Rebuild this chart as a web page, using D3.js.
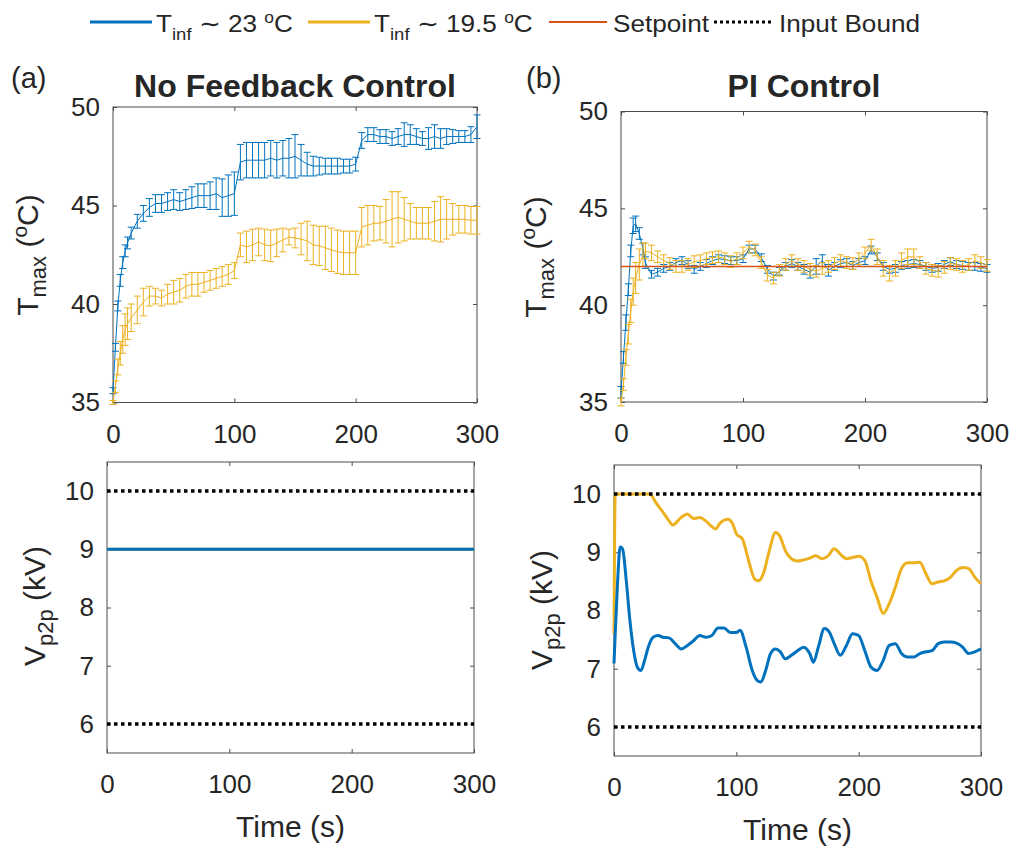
<!DOCTYPE html>
<html>
<head>
<meta charset="utf-8">
<script src="https://cdn.jsdelivr.net/npm/d3@7"></script>
<style>
  body { margin: 0; background: #fff; }
  text { font-family: "Liberation Sans", Arial, Helvetica, sans-serif; fill: #262626; }
</style>
</head>
<body>
<svg id="fig" width="1015" height="850"></svg>
<script>
// ---- data ----
var timeTicks = [0, 100, 200, 300];
var tempTicks = [35, 40, 45, 50];
var voltTicks = [6, 7, 8, 9, 10];
var setpoint = 42;
var inputBounds = [6, 10];

// (a) no feedback, T_max mean and error half-width
var tA = [0,2,4,6,8,10,12,15,20,25,30,35,40,45,50,55,60,65,70,75,80,85,90,95,100,
  105,110,115,120,125,130,135,140,145,150,155,160,165,170,175,180,185,190,195,200,
  205,210,215,220,225,230,235,240,245,250,255,260,265,270,275,280,285,290,295,300];
var blueMeanA = [35.6,37.8,39.9,41.2,42.1,42.7,43.1,43.6,44.2,44.6,44.9,45.1,45.1,45.2,45.3,45.2,45.3,45.4,45.5,45.5,45.5,45.6,45.4,45.5,45.6,
  47.2,47.3,47.3,47.3,47.3,47.4,47.3,47.4,47.4,47.5,47.3,47.1,47.0,47.0,47.0,47.0,47.0,47.0,47.0,47.1,
  48.3,48.6,48.6,48.5,48.5,48.4,48.5,48.6,48.6,48.5,48.4,48.4,48.5,48.4,48.5,48.5,48.5,48.5,48.6,49.0];
var blueErrA = [0.15,0.2,0.25,0.3,0.3,0.3,0.3,0.3,0.35,0.4,0.45,0.45,0.45,0.45,0.5,0.45,0.5,0.55,0.6,0.6,0.7,0.8,0.95,1.05,1.1,
  0.9,0.9,0.9,0.9,0.9,0.9,0.9,0.9,1.0,1.1,0.8,0.6,0.5,0.45,0.4,0.4,0.4,0.35,0.35,0.35,
  0.4,0.35,0.35,0.35,0.35,0.35,0.4,0.6,0.5,0.4,0.35,0.55,0.6,0.5,0.4,0.35,0.3,0.3,0.4,0.6];
var yellowMeanA = [35.0,35.8,36.8,37.5,38.2,38.7,39.0,39.3,39.7,40.1,40.4,40.4,40.3,40.5,40.6,40.7,40.9,41.0,41.0,41.1,41.2,41.3,41.4,41.5,41.7,
  43.0,42.9,43.0,43.15,43.0,42.95,43.1,43.25,43.4,43.35,43.3,43.2,43.0,42.95,42.85,42.75,42.65,42.6,42.6,42.6,
  43.9,44.0,44.1,44.1,44.2,44.3,44.4,44.3,44.2,44.1,44.1,44.1,44.2,44.3,44.3,44.3,44.3,44.3,44.25,44.25];
var yellowErrA = [0.1,0.3,0.4,0.6,0.7,0.8,0.8,0.7,0.7,0.7,0.5,0.4,0.4,0.5,0.6,0.6,0.6,0.6,0.6,0.5,0.5,0.5,0.5,0.5,0.4,
  0.6,0.8,0.8,0.7,0.8,0.8,0.7,0.6,0.4,0.5,0.8,1.0,1.0,1.0,1.1,1.1,1.1,1.1,1.1,1.1,
  1.0,1.0,0.9,0.85,1.1,1.4,1.3,1.1,0.9,0.8,0.8,0.8,1.0,1.15,1.0,0.8,0.7,0.7,0.7,0.7];

// (b) PI control, T_max mean and error half-width
var tB = [0,2,4,6,8,10,12,15,18,20,25,30,35,40,45,50,55,60,65,70,75,80,85,90,95,100,
  105,110,115,120,125,130,135,140,145,150,155,160,165,170,175,180,185,190,195,200,
  205,210,215,220,225,230,235,240,245,250,255,260,265,270,275,280,285,290,295,300];
var blueMeanB = [35.5,37.3,39.1,40.8,42.8,44.1,44.2,43.7,42.9,42.2,41.6,41.7,41.9,42.0,42.2,42.3,42.1,41.85,42.0,42.15,42.3,42.4,42.35,42.3,42.3,42.4,
  42.9,42.9,42.45,41.85,41.5,41.75,42.0,42.15,42.0,41.85,41.7,42.0,42.3,41.8,42.0,42.15,42.2,42.05,42.2,42.3,
  42.85,42.5,42.0,41.85,41.9,42.05,42.1,42.15,42.1,42.0,41.9,41.95,42.1,42.25,42.1,42.05,42.0,42.0,41.95,41.9];
var blueErrB = [0.3,0.3,0.4,0.3,0.3,0.4,0.4,0.3,0.3,0.3,0.2,0.2,0.2,0.2,0.2,0.2,0.2,0.2,0.2,0.2,0.2,0.2,0.2,0.2,0.2,0.2,
  0.2,0.2,0.2,0.2,0.2,0.2,0.2,0.2,0.2,0.25,0.3,0.4,0.3,0.3,0.2,0.2,0.2,0.2,0.2,0.2,
  0.2,0.2,0.2,0.2,0.2,0.2,0.2,0.2,0.2,0.2,0.2,0.2,0.2,0.2,0.2,0.2,0.2,0.2,0.2,0.2];
var yellowMeanB = [35.0,35.9,37.3,38.5,39.7,40.7,41.4,42.1,42.6,42.8,42.7,42.5,42.3,42.15,42.0,42.0,42.1,42.25,42.3,42.4,42.45,42.5,42.4,42.25,42.4,42.7,
  43.0,42.85,42.2,41.55,41.4,41.8,42.1,42.3,42.1,42.0,41.85,41.75,41.9,42.0,42.15,42.3,42.2,42.15,42.4,42.7,
  43.1,42.5,41.9,41.65,41.9,42.3,42.5,42.5,42.2,41.9,41.8,41.75,41.95,42.15,42.1,42.0,42.1,42.3,42.2,42.05];
var yellowErrB = [0.2,0.3,0.4,0.5,0.6,0.7,0.8,0.8,0.6,0.4,0.4,0.3,0.3,0.3,0.3,0.3,0.3,0.3,0.3,0.3,0.3,0.3,0.3,0.3,0.3,0.3,
  0.3,0.3,0.3,0.3,0.3,0.3,0.3,0.3,0.3,0.3,0.3,0.3,0.3,0.3,0.3,0.3,0.3,0.3,0.3,0.3,
  0.3,0.4,0.4,0.4,0.4,0.4,0.4,0.4,0.3,0.3,0.3,0.3,0.3,0.3,0.3,0.3,0.3,0.3,0.3,0.3];

// input voltage
var tVa = [0, 300];
var blueVa = [9, 9];
var yellowVa = [9, 9];
var tVbBlue = [0,1,3,5,7,10,13,16,19,22,25,28,32,36,40,45,50,55,60,65,70,75,80,85,90,95,100,103,108,113,
  117,120,124,128,132,136,140,145,150,155,160,163,167,172,176,180,185,190,195,200,
  205,210,215,220,225,230,235,240,245,250,255,260,265,270,275,280,285,290,295,300];
var blueVb = [7.09,7.6,8.52,9.09,9.06,8.52,7.83,7.32,7.03,6.97,7.14,7.37,7.54,7.57,7.54,7.53,7.43,7.34,7.4,7.48,
  7.57,7.54,7.57,7.7,7.7,7.62,7.62,7.66,7.37,6.97,6.8,6.77,6.97,7.26,7.34,7.29,7.17,7.23,7.31,7.37,
  7.26,7.11,7.37,7.69,7.63,7.43,7.23,7.4,7.6,7.57,7.31,7.03,6.97,7.14,7.4,7.43,7.26,7.2,7.2,7.26,
  7.29,7.31,7.43,7.46,7.46,7.44,7.37,7.26,7.29,7.34];
var tVbYellow = [0,1,5,10,15,20,25,29,35,40,45,48,55,60,65,70,75,80,83,87,93,97,100,105,110,115,118,122,127,132,
  136,140,145,150,155,160,165,170,175,180,185,190,195,200,205,210,215,220,225,230,
  235,240,245,250,255,260,265,270,275,280,285,290,295,300];
var yellowVb = [7.6,10,10,10,10,10,10,10,9.83,9.69,9.54,9.47,9.6,9.66,9.58,9.6,9.54,9.44,9.4,9.51,
  9.57,9.49,9.32,9.23,8.86,8.54,8.51,8.63,9.03,9.34,9.26,9.03,8.89,8.85,8.87,8.9,8.94,8.89,8.94,9.06,
  8.97,8.89,8.91,8.93,8.86,8.51,8.23,7.95,8.12,8.4,8.72,8.82,8.82,8.83,8.63,8.46,8.49,8.51,8.57,8.69,
  8.74,8.72,8.57,8.46];

// ---- styles ----
var BLUE = "#0072BD", YELLOW = "#EDB120", RED = "#D95319", AXIS = "#4d4d4d";

var svg = d3.select("#fig");

// build one axes box with inward ticks on all four sides
function panel(box, ydom, yticks) {
  var x = d3.scaleLinear().domain([0, 300]).range([box.x0, box.x1]);
  var y = d3.scaleLinear().domain(ydom).range([box.y1, box.y0]);
  var style = function(g) {
    g.select(".domain").remove();
    g.selectAll("line").attr("stroke", AXIS);
    g.attr("font-size", 26);
  };
  var fmt = d3.format("d");
  svg.append("g").attr("transform", "translate(0," + box.y1 + ")")
    .call(d3.axisBottom(x).tickValues(timeTicks).tickFormat(fmt).tickSize(-4).tickPadding(22)).call(style);
  svg.append("g").attr("transform", "translate(0," + box.y0 + ")")
    .call(d3.axisTop(x).tickValues(timeTicks).tickSize(-4).tickFormat("")).call(style);
  svg.append("g").attr("transform", "translate(" + box.x0 + ",0)")
    .call(d3.axisLeft(y).tickValues(yticks).tickFormat(fmt).tickSize(-4).tickPadding(13)).call(style);
  svg.append("g").attr("transform", "translate(" + box.x1 + ",0)")
    .call(d3.axisRight(y).tickValues(yticks).tickSize(-4).tickFormat("")).call(style);
  svg.append("rect")
    .attr("x", box.x0).attr("y", box.y0)
    .attr("width", box.x1 - box.x0).attr("height", box.y1 - box.y0)
    .attr("fill", "none").attr("stroke", AXIS).attr("stroke-width", 1);
  return {x: x, y: y, box: box};
}

function errorbars(p, times, mean, err, color) {
  var pts = times.map(function(t, i) { return {t: t, m: mean[i], e: err[i]}; });
  var g = svg.append("g").attr("stroke", color).attr("stroke-width", 1).attr("fill", "none");
  g.append("path")
    .attr("d", d3.line().x(function(d) { return p.x(d.t); }).y(function(d) { return p.y(d.m); })(pts));
  var bars = g.selectAll("g.bar").data(pts).enter().append("g");
  bars.append("line")
    .attr("x1", function(d) { return p.x(d.t); }).attr("x2", function(d) { return p.x(d.t); })
    .attr("y1", function(d) { return p.y(d.m - d.e); }).attr("y2", function(d) { return p.y(d.m + d.e); });
  [-1, 1].forEach(function(s) {
    bars.append("line")
      .attr("x1", function(d) { return p.x(d.t) - 3.5; }).attr("x2", function(d) { return p.x(d.t) + 3.5; })
      .attr("y1", function(d) { return p.y(d.m + s * d.e); }).attr("y2", function(d) { return p.y(d.m + s * d.e); });
  });
}

function curve(p, times, vals, color, width, dash, smooth) {
  var pts = times.map(function(t, i) { return [t, vals[i]]; });
  svg.append("path")
    .attr("d", d3.line().x(function(d) { return p.x(d[0]); }).y(function(d) { return p.y(d[1]); })
      .curve(smooth ? d3.curveMonotoneX : d3.curveLinear)(pts))
    .attr("fill", "none").attr("stroke", color).attr("stroke-width", width)
    .attr("stroke-dasharray", dash || null);
}

// rich text: parts = [text, size, dy]
function rich(x, y, parts, opts) {
  opts = opts || {};
  var t = svg.append("text").attr("x", 0).attr("y", 0)
    .attr("text-anchor", opts.anchor || "start")
    .attr("transform", "translate(" + x + "," + y + ")" +
      (opts.rotate ? " rotate(-90)" : "") + (opts.sx ? " scale(" + opts.sx + ",1)" : ""));
  parts.forEach(function(p) {
    t.append("tspan").attr("font-size", p[1]).attr("dy", p[2] || 0).text(p[0]);
  });
  return t;
}

function tmaxLabel(x, y) {
  rich(x, y, [["T", 30], ["max", 22, 8], [" (", 30, -8], ["o", 21, -11], ["C)", 30, 11]],
    {anchor: "middle", rotate: true});
}
function vLabel(x, y) {
  rich(x, y, [["V", 30], ["p2p", 22, 8], [" (kV)", 30, -8]], {anchor: "middle", rotate: true});
}
function timeLabel(p) {
  svg.append("text").attr("x", (p.box.x0 + p.box.x1) / 2).attr("y", p.box.y1 + 84)
    .attr("text-anchor", "middle").attr("font-size", 30).text("Time (s)");
}

// ---- (a) temperature, no feedback ----
var pA = panel({x0: 113, x1: 477, y0: 107, y1: 402.5}, [35, 50], tempTicks);
errorbars(pA, tA, blueMeanA, blueErrA, BLUE);
errorbars(pA, tA, yellowMeanA, yellowErrA, YELLOW);
tmaxLabel(38, 255);

// ---- (b) temperature, PI control ----
var pB = panel({x0: 621, x1: 987, y0: 111.5, y1: 402}, [35, 50], tempTicks);
errorbars(pB, tB, blueMeanB, blueErrB, BLUE);
errorbars(pB, tB, yellowMeanB, yellowErrB, YELLOW);
curve(pB, [0, 300], [setpoint, setpoint], RED, 1.6);
tmaxLabel(546, 257);

// ---- (a) voltage ----
var pC = panel({x0: 107, x1: 474, y0: 462, y1: 753}, [5.5, 10.5], voltTicks);
curve(pC, tVa, yellowVa, YELLOW, 3);
curve(pC, tVa, blueVa, BLUE, 3);
inputBounds.forEach(function(b) { curve(pC, [0, 300], [b, b], "#000", 3.5, "3.5,3.5"); });
vLabel(45, 606);
timeLabel(pC);

// ---- (b) voltage ----
var pD = panel({x0: 614, x1: 981, y0: 465, y1: 756}, [5.5, 10.5], voltTicks);
curve(pD, tVbYellow, yellowVb, YELLOW, 3, null, true);
curve(pD, tVbBlue, blueVb, BLUE, 3, null, true);
inputBounds.forEach(function(b) { curve(pD, [0, 300], [b, b], "#000", 3.5, "3.5,3.5"); });
vLabel(552, 610);
timeLabel(pD);

// ---- titles ----
svg.append("text").attr("x", 295).attr("y", 97).attr("text-anchor", "middle")
  .attr("font-size", 32).attr("font-weight", "bold").text("No Feedback Control");
svg.append("text").attr("x", 804).attr("y", 97).attr("text-anchor", "middle")
  .attr("font-size", 32).attr("font-weight", "bold").text("PI Control");
svg.append("text").attr("x", 11).attr("y", 88).attr("font-size", 29).text("(a)");
svg.append("text").attr("x", 526).attr("y", 88).attr("font-size", 29).text("(b)");

// ---- legend ----
function legLine(x0, x1, color, width, dash) {
  svg.append("line").attr("x1", x0).attr("x2", x1).attr("y1", 22).attr("y2", 22)
    .attr("stroke", color).attr("stroke-width", width).attr("stroke-dasharray", dash || null);
}
var leg = {sx: 1.09};
legLine(90, 152, BLUE, 3);
rich(156, 32, [["T", 24], ["inf", 17, 8], [" \u223C 23 ", 24, -8], ["o", 16, -9], ["C", 24, 9]], leg);
legLine(308, 370, YELLOW, 3);
rich(374, 32, [["T", 24], ["inf", 17, 8], [" \u223C 19.5 ", 24, -8], ["o", 16, -9], ["C", 24, 9]], leg);
legLine(549, 607, RED, 2);
rich(613, 32, [["Setpoint", 24]], leg);
legLine(714, 773, "#000", 3, "3,3");
rich(779, 32, [["Input Bound", 24]], leg);
</script>
</body>
</html>
